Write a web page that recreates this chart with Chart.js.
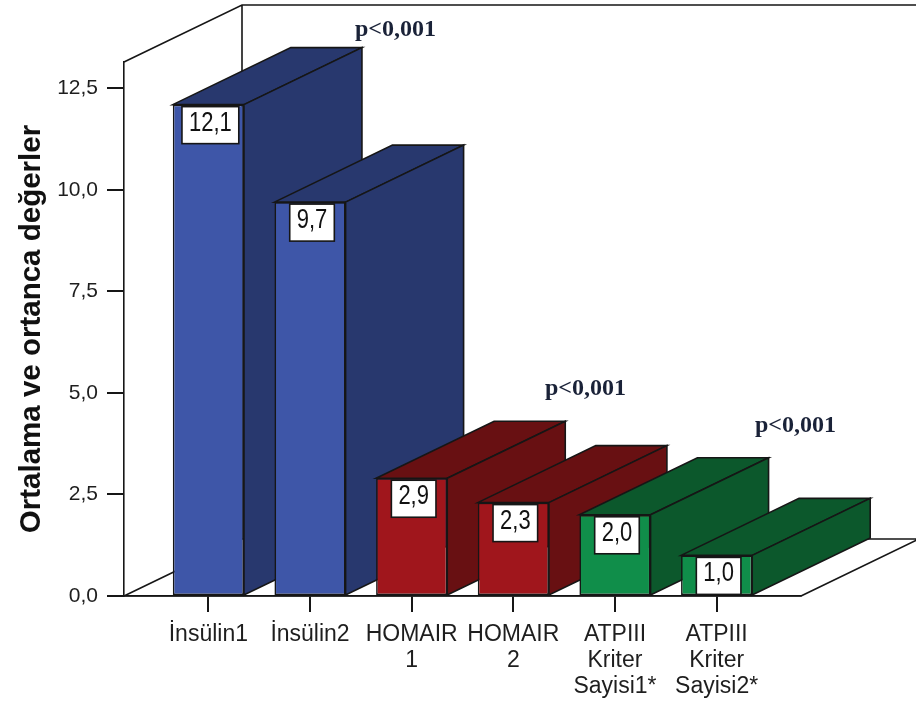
<!DOCTYPE html>
<html>
<head>
<meta charset="utf-8">
<script src="https://cdn.jsdelivr.net/npm/chart.js@4/dist/chart.umd.min.js"></script>
<style>
  html, body { margin: 0; padding: 0; background: #ffffff; }
  #wrap { width: 916px; height: 705px; }
</style>
</head>
<body>
<div id="wrap"><canvas id="c" width="916" height="705"></canvas></div>
<script>
// ---- data ----
const categories = [
  ['İnsülin1'],
  ['İnsülin2'],
  ['HOMAIR', '1'],
  ['HOMAIR', '2'],
  ['ATPIII', 'Kriter', 'Sayisi1*'],
  ['ATPIII', 'Kriter', 'Sayisi2*']
];
const values = [12.1, 9.7, 2.9, 2.3, 2.0, 1.0];
const yTicks = [0, 2.5, 5.0, 7.5, 10.0, 12.5];
const yTitle = 'Ortalama ve ortanca değerler';
const pTexts = ['p<0,001', 'p<0,001', 'p<0,001'];
const pAt = [[1.84, 13.95], [3.71, 5.11], [5.775, 4.20]]; // [category position, value]

// ---- style ----
const frontColors = ['#3E56A8', '#3E56A8', '#A0161C', '#A0161C', '#108E4A', '#108E4A'];
const sideColors  = ['#28386E', '#28386E', '#681012', '#681012', '#0C582C', '#0C582C'];
const LINE = '#161616';
const DX = 118, DY = 57;
const fmt = v => v.toFixed(1).replace('.', ',');

const threeD = {
  id: 'threeD',
  beforeDatasetsDraw(chart) {
    const { ctx, chartArea: a } = chart;
    ctx.save();
    ctx.lineWidth = 1.6;
    ctx.strokeStyle = LINE;
    ctx.lineJoin = 'miter';
    ctx.beginPath();
    ctx.moveTo(a.left, a.top); ctx.lineTo(a.left + DX, a.top - DY); ctx.lineTo(a.right + DX, a.top - DY);
    ctx.moveTo(a.left + DX, a.top - DY); ctx.lineTo(a.left + DX, a.bottom - DY); ctx.lineTo(a.right + DX, a.bottom - DY);
    ctx.moveTo(a.left, a.bottom); ctx.lineTo(a.left + DX, a.bottom - DY);
    ctx.moveTo(a.right, a.bottom); ctx.lineTo(a.right + DX, a.bottom - DY);
    ctx.moveTo(a.left, a.bottom); ctx.lineTo(a.right, a.bottom);
    ctx.stroke();
    const meta = chart.getDatasetMeta(0);
    meta.data.forEach((el, i) => {
      const { x, y, base, width } = el.getProps(['x', 'y', 'base', 'width'], true);
      const x1 = x - width / 2, x2 = x + width / 2;
      ctx.fillStyle = sideColors[i];
      ctx.beginPath();
      ctx.moveTo(x1, y); ctx.lineTo(x1 + DX, y - DY); ctx.lineTo(x2 + DX, y - DY); ctx.lineTo(x2, y);
      ctx.closePath(); ctx.fill(); ctx.stroke();
      ctx.beginPath();
      ctx.moveTo(x2, y); ctx.lineTo(x2 + DX, y - DY); ctx.lineTo(x2 + DX, base - DY); ctx.lineTo(x2, base);
      ctx.closePath(); ctx.fill(); ctx.stroke();
    });
    ctx.restore();
  },
  afterDatasetsDraw(chart) {
    const { ctx, scales } = chart;
    const meta = chart.getDatasetMeta(0);
    ctx.save();
    ctx.font = '22px "Liberation Sans", Arial, sans-serif';
    meta.data.forEach((el, i) => {
      const { x, y } = el.getProps(['x', 'y'], true);
      const txt = fmt(values[i]);
      const tw = ctx.measureText(txt).width;
      const bw = tw + 14, bh = 37;
      const bx = x + 2 - bw / 2, by = y + 2;
      ctx.fillStyle = '#ffffff';
      ctx.fillRect(bx, by, bw, bh);
      ctx.lineWidth = 1.6;
      ctx.strokeStyle = LINE;
      ctx.strokeRect(bx, by, bw, bh);
      ctx.save();
      ctx.translate(bx + bw / 2, by + bh / 2 - 2);
      ctx.scale(1, 1.25);
      ctx.fillStyle = '#111111';
      ctx.textAlign = 'center';
      ctx.textBaseline = 'middle';
      ctx.fillText(txt, 0, 0);
      ctx.restore();
    });
    ctx.font = 'bold 24px "Liberation Serif", "Times New Roman", serif';
    ctx.fillStyle = '#1a2238';
    ctx.textAlign = 'center';
    ctx.textBaseline = 'middle';
    pTexts.forEach((t, i) => {
      ctx.fillText(t, scales.x.getPixelForValue(pAt[i][0]), scales.y.getPixelForValue(pAt[i][1]));
    });
    ctx.restore();
  }
};

new Chart(document.getElementById('c'), {
  type: 'bar',
  data: {
    datasets: [{
      data: values.map((v, i) => ({ x: i, y: v })),
      backgroundColor: frontColors,
      borderColor: LINE,
      borderWidth: 1.6,
      borderSkipped: false,
      barPercentage: 0.7,
      categoryPercentage: 1.0
    }]
  },
  options: {
    responsive: false,
    animation: false,
    events: [],
    layout: { padding: { top: 62, right: 115, left: 0, bottom: 0 } },
    plugins: { legend: { display: false }, tooltip: { enabled: false } },
    scales: {
      x: {
        type: 'linear',
        min: -0.83,
        max: 5.83,
        offset: false,
        afterBuildTicks: s => { s.ticks = categories.map((c, i) => ({ value: i })); },
        afterFit: s => { s.height = 109; },
        grid: { offset: false, drawOnChartArea: false, drawTicks: true, tickLength: 16, color: LINE, lineWidth: 2 },
        border: { display: true, color: LINE, width: 1.6 },
        ticks: {
          autoSkip: false, maxRotation: 0, minRotation: 0, padding: 9,
          color: '#1e1e1e',
          font: { family: '"Liberation Sans", Arial, sans-serif', size: 23, lineHeight: 1.15 },
          callback: (v, i) => categories[i]
        }
      },
      y: {
        min: 0,
        max: 13.15,
        afterBuildTicks: s => { s.ticks = yTicks.map(v => ({ value: v })); },
        afterFit: s => { s.width = 124; },
        grid: { drawOnChartArea: false, drawTicks: true, tickLength: 17, color: LINE, lineWidth: 2 },
        border: { display: true, color: LINE, width: 1.6 },
        ticks: {
          padding: 9, color: '#1e1e1e',
          font: { family: '"Liberation Sans", Arial, sans-serif', size: 21 },
          callback: v => fmt(v)
        },
        title: {
          display: true, text: yTitle, color: '#111111',
          padding: { top: 14, bottom: 0 },
          font: { family: '"Liberation Sans", Arial, sans-serif', size: 29.5, weight: 'bold', lineHeight: 1.2 }
        }
      }
    }
  },
  plugins: [threeD]
});
</script>
</body>
</html>
